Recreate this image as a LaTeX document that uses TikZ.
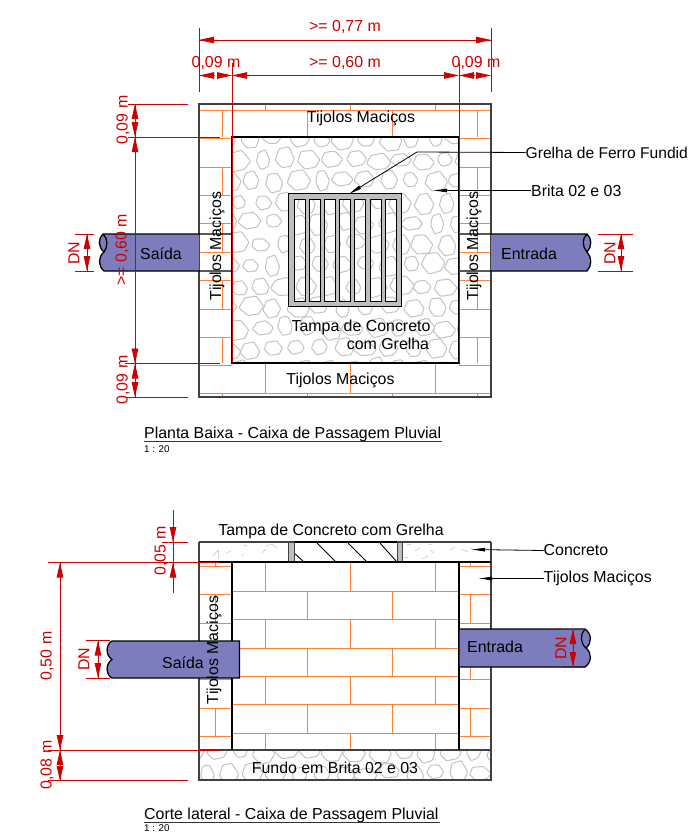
\documentclass[tikz,border=0pt]{standalone}
\usepackage{fontspec}
\setmainfont{Liberation Sans}
\usetikzlibrary{arrows.meta}
\definecolor{dimred}{RGB}{204,0,0}
\definecolor{brick}{RGB}{255,130,60}
\definecolor{pipeblue}{RGB}{125,125,190}
\definecolor{stonegrey}{RGB}{195,195,195}
\definecolor{wallgrey}{RGB}{64,64,64}
\definecolor{gratefill}{RGB}{190,190,190}
\newcommand{\lbl}{\fontsize{15.9}{18}\selectfont}
\tikzset{
  brickline/.style={draw=brick,line width=1.1pt,shift={(0.4,0.4)}},
  wall/.style={draw=wallgrey,line width=1.4pt},
  inwall/.style={draw=black,line width=1.4pt},
  stoneline/.style={draw=stonegrey,line width=1pt,rounded corners=1pt},
  dimline/.style={draw=dimred,line width=0.8pt},
  dimtip/.style={draw=dimred,line width=0.8pt,-{Triangle[length=15pt,width=6.5pt,fill=dimred]}},
  leader/.style={draw=black,line width=0.8pt,-{Triangle[length=13pt,width=3.5pt,fill=black]}},
  pipe/.style={fill=pipeblue,draw=black,line width=1.3pt},
  txt/.style={inner sep=0pt,font=\lbl,text=black},
  dimtxt/.style={inner sep=0pt,font=\lbl,text=dimred},
  rottxt/.style={txt,rotate=90},
  rotdim/.style={dimtxt,rotate=90}
}
\newcommand{\stonefield}[6]{%
  \begin{scope}
    \clip (#1,#2) rectangle (#3,#4);
    \pgfmathsetseed{#5}
    \foreach \ix in {0,...,#6}{
      \foreach \iy in {0,...,#6}{
        \pgfmathsetmacro\cx{#1-4+\ix*23+mod(\iy,2)*11+rand*2.5}
        \pgfmathsetmacro\cy{#2+2+\iy*21+rand*2.5}
        \pgfmathsetmacro\rx{7+rnd*5}
        \pgfmathsetmacro\ry{7+rnd*4.5}
        \draw[stoneline] plot[samples at={0,50,110,170,230,290}]
          ({\cx+\rx*(0.9+0.2*rnd)*cos(\x)},{\cy+\ry*(0.9+0.2*rnd)*sin(\x)}) -- cycle;
      }
    }
  \end{scope}
}
\begin{document}
\begin{tikzpicture}[x=1pt,y=-1pt]
\useasboundingbox (0,0) rectangle (689,832);

% ---------- PLAN ----------
\stonefield{232}{137}{459}{363}{7}{11}
% bricks, top and bottom bands
\draw[brickline] (199,110) -- (491,110);
\foreach \x in {265,350,435} \draw[brickline] (\x,104) -- (\x,110);
\foreach \x in {222,307,392,477} \draw[brickline] (\x,110) -- (\x,137);
\draw[brickline] (199,393) -- (491,393);
\foreach \x in {265,350,435} \draw[brickline] (\x,363) -- (\x,393);
\foreach \x in {222,307,392,477} \draw[brickline] (\x,393) -- (\x,397);
% bricks, side bands
\foreach \y in {138,167,195,223,252,280,309,337,365}{
  \draw[brickline] (199,\y) -- (232,\y);
  \draw[brickline] (459,\y) -- (491,\y);
}
\foreach \a/\b in {167/195,223/252,280/309,337/363}{
  \draw[brickline] (222,\a) -- (222,\b);
  \draw[brickline] (477,\a) -- (477,\b);
}
\draw[wall] (199,104) rectangle (491,397);
\draw[inwall] (232,137) rectangle (459,363);
% grate
\draw[fill=gratefill,draw=black,line width=1pt,even odd rule]
  (288.5,193.5) rectangle (401,306.5)
  foreach \k in {0,...,6} {(294+\k*15.2,199) rectangle (305+\k*15.2,301)};
% pipes
\fill[pipeblue] (199,234) -- (103,234) .. controls (98,238) and (98,247) .. (104,252)
  .. controls (98,257) and (98,266) .. (104,271) -- (199,271) -- cycle;
\draw[line width=1.3pt] (232,234) -- (103,234) .. controls (98,238) and (98,247) .. (104,252)
  .. controls (98,257) and (98,266) .. (104,271) -- (232,271);
\draw[line width=1.3pt] (103,234) .. controls (108,238) and (108,247) .. (104,252);
\fill[pipeblue] (491,234) -- (587,234) .. controls (592,238) and (592,247) .. (587,252)
  .. controls (592,257) and (592,266) .. (587,271) -- (491,271) -- cycle;
\draw[line width=1.3pt] (459,234) -- (587,234) .. controls (592,238) and (592,247) .. (587,252)
  .. controls (592,257) and (592,266) .. (587,271) -- (459,271);
\draw[line width=1.3pt] (587,234) .. controls (582,238) and (582,247) .. (587,252);
% plan texts
\node[txt] (t1) at (361,118.5) {Tijolos Maciços};
\node[txt] (t2) at (340.5,380) {Tijolos Maciços};
\node[rottxt] (t3) at (217,246) {Tijolos Maciços};
\node[rottxt] (t4) at (474,246) {Tijolos Maciços};
\node[txt] (t5) at (361,327) {Tampa de Concreto};
\node[txt] (t6) at (388,344) {com Grelha};
\node[txt] (t7) at (161,253.5) {Saída};
\node[txt] (t8) at (529,253.5) {Entrada};
\node[txt,anchor=west] (t9) at (525.5,152.5) {\fontsize{15.6}{18}\selectfont Grelha de Ferro Fundid};
\node[txt,anchor=west] (t10) at (531,190.5) {Brita 02 e 03};
\coordinate (g1) at (417,152);
\coordinate (g2) at (349,194);
\coordinate (b1) at (434,190.5);
\draw[leader] (t9.west) -- (g1) -- (g2);
\draw[leader] (t10.west) -- (b1);
% plan dimensions
\draw[dimline] (199,40) -- (491,40);
\draw[dimline] (199,28) -- (199,92);
\draw[dimline] (491,28) -- (491,92);
\draw[dimtip] (214,40) -- (199,40);
\draw[dimtip] (476,40) -- (491,40);
\draw[dimline] (247,75.5) -- (444,75.5);
\draw[dimline] (232,63) -- (232,363);
\draw[dimline] (459,63) -- (459,363);
\draw[dimtip] (214,75.5) -- (199,75.5);
\draw[dimtip] (217,75.5) -- (232,75.5);
\draw[dimtip] (247,75.5) -- (232,75.5);
\draw[dimtip] (444,75.5) -- (459,75.5);
\draw[dimtip] (474,75.5) -- (459,75.5);
\draw[dimtip] (476,75.5) -- (491,75.5);
\node[dimtxt] (d1) at (345,27) {>= 0,77 m};
\node[dimtxt] (d2) at (345,62.5) {>= 0,60 m};
\node[dimtxt] (d3) at (216,62.5) {0,09 m};
\node[dimtxt] (d4) at (476,62.5) {0,09 m};
\draw[dimline] (128,104) -- (188,104);
\draw[dimline] (128,137) -- (220,137);
\draw[dimline] (125,363.5) -- (220,363.5);
\draw[dimline] (125,397) -- (188,397);
\draw[dimline] (135,104) -- (135,397);
\draw[dimtip] (135,120) -- (135,104);
\draw[dimtip] (135,121) -- (135,137);
\draw[dimtip] (135,152) -- (135,137);
\draw[dimtip] (135,348) -- (135,363.5);
\draw[dimtip] (135,378.5) -- (135,363.5);
\draw[dimtip] (135,381) -- (135,397);
\node[rotdim] (d5) at (123,120) {0,09 m};
\node[rotdim] (d6) at (122,250) {>= 0,60 m};
\node[rotdim] (d7) at (123,380) {0,09 m};
\draw[dimline] (75,234) -- (94,234);
\draw[dimline] (75,271) -- (94,271);
\draw[dimline] (87,234) -- (87,271);
\draw[dimtip] (87,250) -- (87,234);
\draw[dimtip] (87,255) -- (87,271);
\node[rotdim] (d8) at (74,253) {DN};
\draw[dimline] (598,234) -- (633,234);
\draw[dimline] (598,271) -- (633,271);
\draw[dimline] (621,234) -- (621,271);
\draw[dimtip] (621,250) -- (621,234);
\draw[dimtip] (621,255) -- (621,271);
\node[rotdim] (d9) at (610,253) {DN};
% plan title
\node[txt,anchor=base west] (t11) at (144,438.5) {Planta Baixa - Caixa de Passagem Pluvial};
\draw[line width=0.9pt,draw=black!80] (144,441) -- (442,441);
\node[txt,anchor=base west] (t12) at (144,452.5) {\fontsize{9.8}{11}\selectfont 1 : 20};

% ---------- SECTION ----------
\stonefield{199}{750}{491}{780}{23}{14}
% inner bricks
\foreach \y in {591,619,648,676,704,733}
  \draw[brickline] (232,\y) -- (459,\y);
\draw[brickline] (232,562.5) -- (459,562.5);
\foreach \a/\b in {562/591,619/648,676/704,733/750}
  \foreach \x in {265,350,435} \draw[brickline] (\x,\a) -- (\x,\b);
\foreach \a/\b in {591/619,648/676,704/733}
  \foreach \x in {307,392} \draw[brickline] (\x,\a) -- (\x,\b);
% side bricks
\foreach \y in {566,594,623,651,679,708,736}{
  \draw[brickline] (199,\y) -- (232,\y);
  \draw[brickline] (459,\y) -- (491,\y);
}
\foreach \a/\b in {562/566,594/623,651/679,708/736}{
  \draw[brickline] (215,\a) -- (215,\b);
  \draw[brickline] (470,\a) -- (470,\b);
}
% concrete specks
\begin{scope}[draw=black!18,line width=0.8pt]
  \foreach \a/\b/\c/\d in {213/556/218/550,218/550/218/558,226/553/231/551,242/554/243/556,
    265/546/273/544,272/544/277/548,262/553/266/549,415/551/420/548,
    404/557/408/557,430/550/434/553,450/550/455/547,461/549/468/552,
    407/544/411/544,428/545/432/544,470/548/476/550,244/545/247/546,
    422/559/428/556,400/559/404/562}
    \draw (\a,\b) -- (\c,\d);
\end{scope}
% lid
\draw[wall] (199,542) -- (491,542);
\draw[line width=1.2pt] (294,542) -- (397,542);
\foreach \a/\b in {317/335,348/366,380/396}
  \draw[line width=0.9pt] (\a,543) -- (\b,561);
\draw[line width=0.9pt] (294,553) -- (303,561);
\draw[fill=gratefill,draw=black!75,line width=0.9pt] (288.5,542) rectangle (294,562);
\draw[fill=gratefill,draw=black!75,line width=0.9pt] (397,542) rectangle (402,562);
% walls
\draw[wall] (199,542) -- (199,780) -- (491,780) -- (491,542);
\draw[wall] (199,750) -- (491,750);
\draw[inwall] (199,562) -- (491,562);
\draw[inwall] (232,562) -- (232,750);
\draw[inwall] (459,562) -- (459,750);
% pipes
\draw[pipe] (239.5,641) -- (112,641) .. controls (106,644) and (105,655) .. (112,659.5)
  .. controls (105,664) and (106,675) .. (112,678) -- (239.5,678) -- cycle;
\draw[pipe] (459,629) -- (585,629) .. controls (592,634) and (592,643) .. (586,648)
  .. controls (592,653) and (592,662) .. (585,667) -- (459,667) -- cycle;
\draw[line width=1.2pt] (585,629) .. controls (580,634) and (580,643) .. (586,648);
% section texts
\node[txt] (s1) at (331,531) {Tampa de Concreto com Grelha};
\node[txt] (s2) at (335,767.5) {Fundo em Brita 02 e 03};
\node[rottxt] (s3) at (214,650) {Tijolos Maciços};
\node[txt] (s4) at (183,663) {Saída};
\node[txt] (s5) at (495,647) {Entrada};
\node[txt,anchor=west] (s6) at (543.5,550.5) {Concreto};
\node[txt,anchor=west] (s7) at (543.5,578.5) {Tijolos Maciços};
\coordinate (c1) at (472,549.5);
\coordinate (c2) at (479,578.5);
\draw[leader] (s6.west) -- (c1);
\draw[leader] (s7.west) -- (c2);
% section dimensions
\draw[dimline] (173,510) -- (173,593);
\draw[dimline] (162,542) -- (188,542);
\draw[dimline] (48,562.5) -- (220,562.5);
\draw[dimtip] (173,527) -- (173,542);
\draw[dimtip] (173,577) -- (173,562.5);
\node[rotdim] (e1) at (161,551) {0,05 m};
\draw[dimline] (60,562.5) -- (60,780);
\draw[dimline] (48,750) -- (220,750);
\draw[dimline] (48,780) -- (188,780);
\draw[dimtip] (60,578) -- (60,562.5);
\draw[dimtip] (60,735) -- (60,750);
\draw[dimtip] (60,765) -- (60,750);
\draw[dimtip] (60,765.5) -- (60,781);
\node[rotdim] (e2) at (47,656) {0,50 m};
\node[rotdim] (e3) at (47,765) {0,08 m};
\draw[dimline] (86,640.5) -- (110,640.5);
\draw[dimline] (86,678) -- (110,678);
\draw[dimline] (98,640.5) -- (98,678);
\draw[dimtip] (98,656) -- (98,640.5);
\draw[dimtip] (98,662) -- (98,678);
\node[rotdim] (e4) at (84,659) {DN};
\draw[dimline] (562,629) -- (585,629);
\draw[dimline] (562,667) -- (585,667);
\draw[dimline] (573,629) -- (573,667);
\draw[dimtip] (573,645) -- (573,629);
\draw[dimtip] (573,651) -- (573,667);
\node[rotdim] (e5) at (561,648) {DN};
% section title
\node[txt,anchor=base west] (s8) at (144,819.5) {Corte lateral - Caixa de Passagem Pluvial};
\draw[line width=0.9pt,draw=black!80] (144,822) -- (440,822);
\node[txt,anchor=base west] (s9) at (144,831.5) {\fontsize{9.8}{11}\selectfont 1 : 20};
\end{tikzpicture}
\end{document}
